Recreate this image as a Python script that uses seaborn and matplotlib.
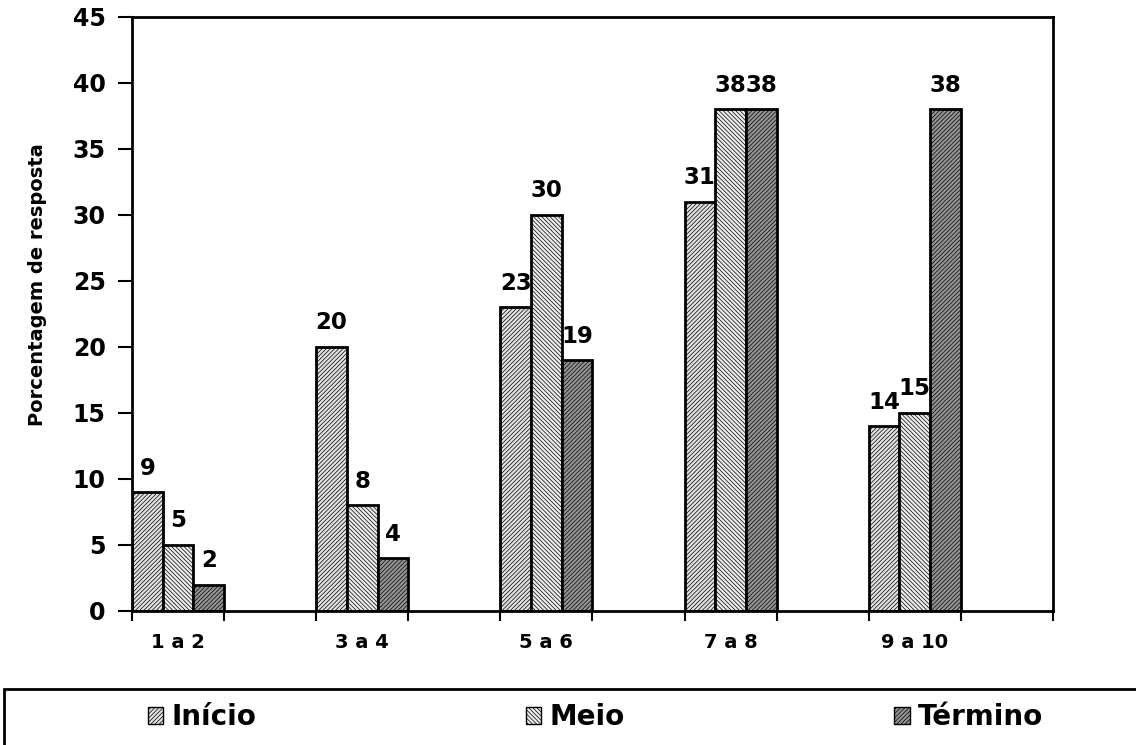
"""Bar chart: percentage of responses per score range at start, middle and end."""
import matplotlib
matplotlib.use("Agg")
import matplotlib.pyplot as plt
import pandas as pd
import seaborn as sns
from matplotlib.patches import Patch, Rectangle

# ── data ────────────────────────────────────────────────────────────
faixas = ["1 a 2", "3 a 4", "5 a 6", "7 a 8", "9 a 10"]
fases = ["Início", "Meio", "Término"]
inicio = [9, 20, 23, 31, 14]
meio = [5, 8, 30, 38, 15]
termino = [2, 4, 19, 38, 38]

df = pd.DataFrame({
    "faixa": faixas * 3,
    "fase": [f for f in fases for _ in faixas],
    "pct": inicio + meio + termino,
})

# ── style ───────────────────────────────────────────────────────────
sns.set_style("white")
plt.rcParams["font.family"] = ["DejaVu Sans"]
plt.rcParams["font.weight"] = "bold"
plt.rcParams["hatch.linewidth"] = 0.5
plt.rcParams["hatch.color"] = "black"
for key in ["text.color", "axes.labelcolor", "xtick.color", "ytick.color"]:
    plt.rcParams[key] = "black"

FACES = {"Início": "#e2e2e2", "Meio": "#ededed", "Término": "#949494"}
HATCH = {"Início": "////////", "Meio": "\\\\\\\\\\\\\\\\", "Término": "////////"}

fig = plt.figure(figsize=(11.36, 7.45), dpi=100)
ax = fig.add_axes([0.1162, 0.1799, 0.8107, 0.7973])

sns.barplot(data=df, x="faixa", y="pct", hue="fase", order=faixas,
            hue_order=fases, width=0.5, gap=0, edgecolor="black",
            linewidth=2, legend=False, ax=ax)

for cont, fase in zip(ax.containers, fases):
    for bar in cont:
        bar.set_facecolor(FACES[fase])
        bar.set_hatch(HATCH[fase])
    ax.bar_label(cont, fmt="%d", padding=9, fontsize=16.5, fontweight="bold")

# ── axes ────────────────────────────────────────────────────────────
ax.set_ylim(0, 45)
ax.set_xlim(-0.25, len(faixas) - 0.25)
ax.set_yticks(range(0, 46, 5))
ax.tick_params(axis="y", which="major", length=10, width=1.5, direction="out",
               labelsize=17, pad=9, left=True)

bounds = [i * 0.5 - 0.25 for i in range(2 * len(faixas) + 1)]
ax.set_xticks(bounds)
ax.set_xticklabels([])
ax.tick_params(axis="x", which="major", length=7, width=1.5, direction="out",
               bottom=True)
ax.set_xticks(range(len(faixas)), minor=True)
ax.set_xticklabels(faixas, minor=True, fontsize=14, fontweight="bold")
ax.tick_params(axis="x", which="minor", length=0, pad=16)

ax.set_xlabel("")
ax.set_ylabel("Porcentagem de resposta", fontsize=14, fontweight="bold")
ax.yaxis.set_label_coords(-0.092, 0.55)

for side in ["left", "right", "top", "bottom"]:
    ax.spines[side].set_visible(True)
    ax.spines[side].set_color("black")
    ax.spines[side].set_linewidth(2)

# ── legend box (runs off the right/bottom edges) ───────────────────
fig.patches.append(Rectangle((4 / 1136, -0.1), 1.2, (745 - 689) / 745 + 0.1,
                             transform=fig.transFigure, fill=False,
                             edgecolor="black", linewidth=2))
handles = [Patch(facecolor=FACES[f], hatch=HATCH[f], edgecolor="black",
                 linewidth=1) for f in fases]
fig.legend(handles, fases, loc="center left",
           bbox_to_anchor=(123 / 1136, 1 - 717 / 745), ncol=3, frameon=False,
           prop={"size": 20, "weight": "bold"}, handlelength=0.55,
           handleheight=0.55, handletextpad=0.3, columnspacing=9.7)

fig.savefig("out.png", dpi=100)
